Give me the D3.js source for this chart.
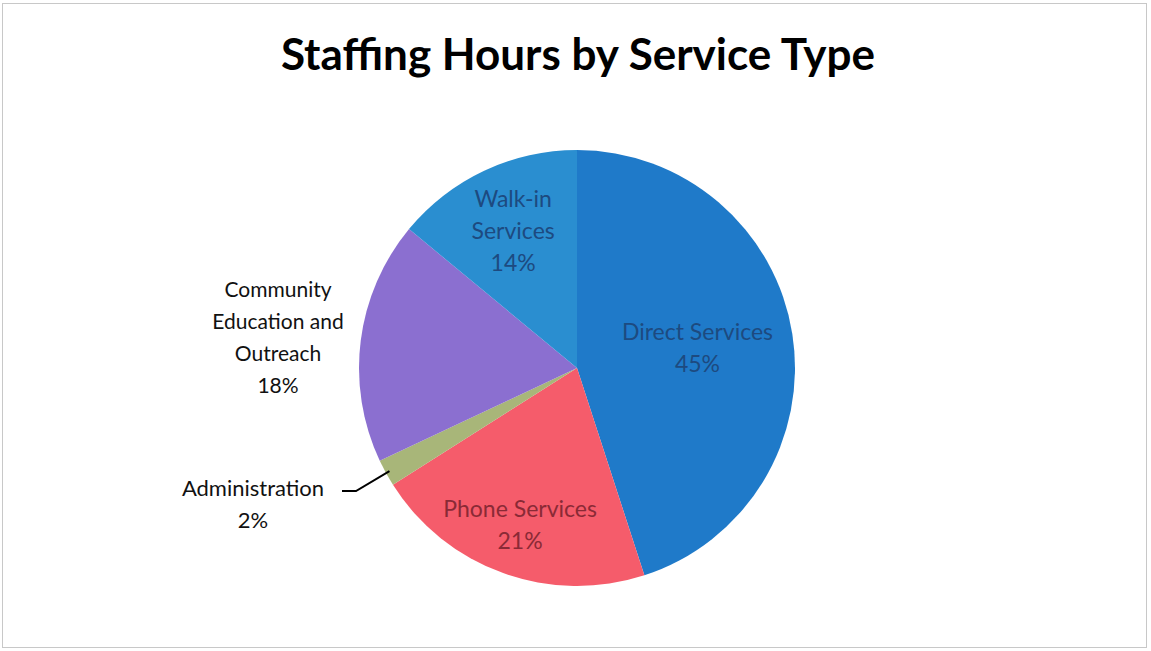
<!DOCTYPE html>
<html>
<head>
<meta charset="utf-8">
<style>
body { margin: 0; background: #fff; }
text { font-family: Lato, "Open Sans", sans-serif; }
</style>
</head>
<body>
<svg width="1151" height="651"></svg>
<script src="https://d3js.org/d3.v7.min.js"></script>
<script>

var categories = ["Direct Services", "Phone Services", "Administration", "Community Education and Outreach", "Walk-in Services"];
var values = [45, 21, 2, 18, 14];
var labelLines = [
  ["Direct Services", "45%"],
  ["Phone Services", "21%"],
  ["Administration", "2%"],
  ["Community", "Education and", "Outreach", "18%"],
  ["Walk-in", "Services", "14%"]
];
var colors = ["#1f7ac9", "#f55c6b", "#a8b679", "#8b6fd0", "#2a8ed0"];
var textColors = ["#1d4a80", "#8a2a36", "#111", "#111", "#1d4a80"];
var labelSizes = [23, 23, 22, 21, 23];

var svg = d3.select("svg"),
    width = +svg.attr("width"),
    height = +svg.attr("height");

svg.append("rect")
    .attr("x", 2.5).attr("y", 3.5)
    .attr("width", width - 7).attr("height", height - 7)
    .attr("fill", "#fff")
    .attr("stroke", "#c8c8c8");

svg.append("text")
    .attr("x", 578)
    .attr("y", 70)
    .attr("text-anchor", "middle")
    .style("font-size", "44px")
    .style("font-weight", "bold")
    .attr("fill", "#000")
    .text("Staffing Hours by Service Type");

var cx = 577, cy = 368, radius = 218;

var pie = d3.pie().sort(null).value(function(d) { return d; });
var arc = d3.arc().innerRadius(0).outerRadius(radius);
var arcs = pie(values);

var g = svg.append("g").attr("transform", "translate(" + cx + "," + cy + ")");

g.selectAll("path")
  .data(arcs)
  .enter().append("path")
    .attr("d", arc)
    .attr("fill", function(d, i) { return colors[i]; });

// label placement: radius along mid-angle (inside labels) or fixed offset (outside)
var labelRadius = [122, 168, 0, 0, 150];
var outside = {
  2: [-324, 121],
  3: [-299, -78]
};
var lineH = 32;

arcs.forEach(function(d, i) {
  var a = (d.startAngle + d.endAngle) / 2;
  var x, y;
  if (outside[i]) {
    x = outside[i][0]; y = outside[i][1];
  } else {
    x = Math.sin(a) * labelRadius[i];
    y = -Math.cos(a) * labelRadius[i] - (labelLines[i].length - 1) * lineH / 2;
  }
  var t = g.append("text")
      .attr("text-anchor", "middle")
      .attr("fill", textColors[i])
      .style("font-size", labelSizes[i] + "px");
  labelLines[i].forEach(function(s, k) {
    t.append("tspan").attr("x", x).attr("y", y + k * lineH + 7).text(s);
  });
});

// leader line for Administration
var adm = arcs[2];
var am = (adm.startAngle + adm.endAngle) / 2;
var px = Math.sin(am) * (radius - 4), py = -Math.cos(am) * (radius - 4);
g.append("path")
    .attr("d", "M" + (-235) + "," + 123 + "L" + (-221) + "," + 123 + "L" + px + "," + py)
    .attr("fill", "none")
    .attr("stroke", "#000")
    .attr("stroke-width", 2);

</script>
</body>
</html>
